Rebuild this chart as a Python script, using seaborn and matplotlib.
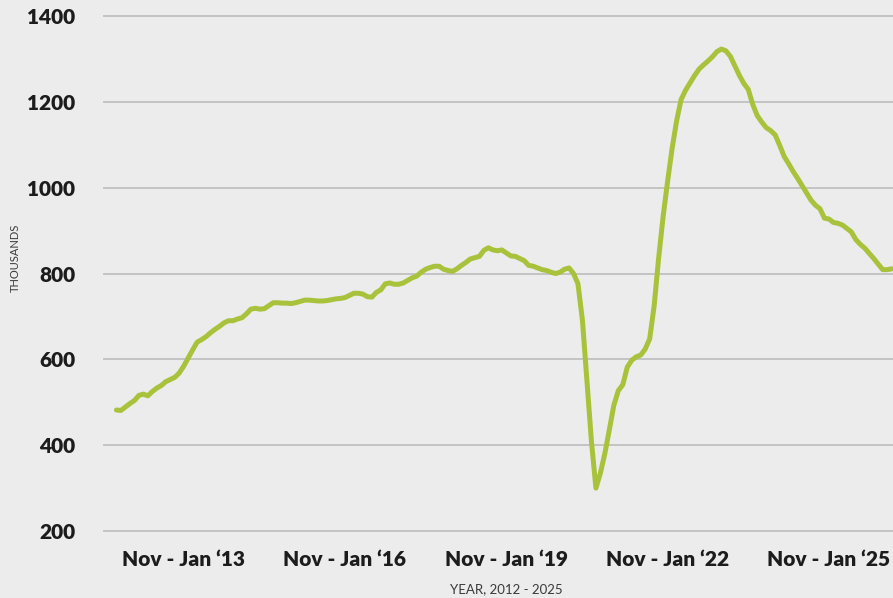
import matplotlib
matplotlib.use("Agg")
import matplotlib.pyplot as plt
import seaborn as sns
import pandas as pd

# rolling three-month figures, thousands, first point = Aug-Oct 2011
vacancies = [
    482, 481, 489, 497, 504, 516, 519, 515, 525, 533,
    539, 548, 553, 558, 568, 584, 603, 622, 640, 646,
    653, 662, 670, 677, 685, 690, 690, 694, 697, 706,
    717, 719, 717, 718, 725, 732, 732, 731, 731, 730,
    732, 735, 738, 738, 737, 736, 736, 737, 739, 741,
    742, 744, 749, 754, 754, 752, 746, 745, 756, 762,
    776, 778, 775, 775, 778, 784, 790, 794, 803, 810,
    814, 817, 817, 810, 807, 805, 811, 819, 826, 834,
    837, 840, 854, 860, 855, 853, 855, 848, 841, 840,
    835, 830, 819, 817, 813, 809, 807, 803, 800, 803,
    810, 813, 800, 776, 690, 549, 409, 300, 335, 381,
    436, 493, 527, 541, 582, 598, 606, 610, 624, 648,
    725, 836, 933, 1015, 1091, 1155, 1205, 1227, 1244, 1261,
    1276, 1286, 1295, 1305, 1317, 1323, 1319, 1306, 1284, 1262,
    1243, 1229, 1194, 1168, 1153, 1140, 1133, 1123, 1099, 1073,
    1056, 1038, 1022, 1005, 988, 971, 959, 951, 929, 927,
    919, 917, 913, 905, 897, 879, 868, 859, 847, 835,
    822, 809, 809, 811,
]
tick_pos = [15, 51, 87, 123, 159]
tick_labels = ["Nov - Jan \u201813", "Nov - Jan \u201816", "Nov - Jan \u201819",
               "Nov - Jan \u201822", "Nov - Jan \u201825"]
y_ticks = [200, 400, 600, 800, 1000, 1200, 1400]

df = pd.DataFrame({"month": range(len(vacancies)), "vacancies": vacancies})

bg = "#ececec"
sns.set_theme(style="whitegrid", rc={"axes.facecolor": bg, "figure.facecolor": bg,
                                     "grid.color": "#bcbcbc", "grid.linewidth": 1.2})
plt.rcParams["font.family"] = ["Lato", "DejaVu Sans"]

fig = plt.figure(figsize=(8.93, 5.98), dpi=100)
ax = fig.add_axes([103 / 893, 0.1084, 1 - 103 / 893, 0.8684])

sns.lineplot(data=df, x="month", y="vacancies", ax=ax, color="#a9c23b",
             linewidth=3.6, solid_capstyle="round", solid_joinstyle="round")

ax.set_xlim(-3, 173.3)
ax.set_ylim(195, 1405)
ax.set_yticks(y_ticks)
ax.set_yticklabels([str(v) for v in y_ticks], fontsize=15, fontweight="heavy", color="#1c1c1c")
ax.set_xticks(tick_pos)
ax.set_xticklabels(tick_labels, fontsize=15, fontweight="heavy", color="#1c1c1c")
ax.tick_params(axis="y", pad=20, length=0)
ax.tick_params(axis="x", pad=12, length=0)
ax.grid(axis="x", visible=False)
ax.grid(axis="y", visible=True)
for s in ax.spines.values():
    s.set_visible(False)

ax.set_xlabel("")
ax.set_ylabel("")
fig.text(506 / 893, 1 - 589 / 598, "YEAR, 2012 - 2025", ha="center", va="center",
         fontsize=9.5, color="#3a3a3a", fontweight="normal")
fig.text(15 / 893, 1 - 258 / 598, "THOUSANDS", ha="center", va="center", rotation=90,
         fontsize=8, color="#3a3a3a", fontweight="normal")

fig.savefig("out.png", dpi=100, facecolor=bg)
